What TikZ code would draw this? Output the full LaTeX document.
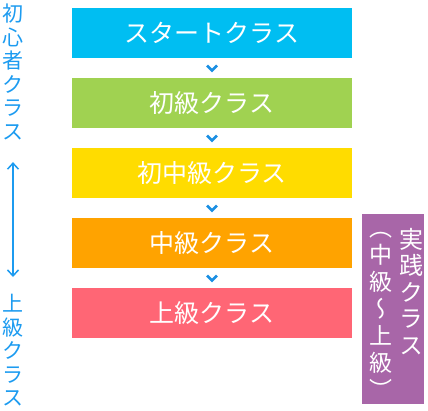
\documentclass[tikz,border=0pt]{standalone}
\usepackage{fontspec}
\usepackage{xcolor}
\usepackage{tikz}
\usetikzlibrary{arrows.meta,positioning,calc}
\newfontfamily\jpfont{Noto Sans CJK JP}
\newfontfamily\jpvert[RawFeature={+vert}]{Noto Sans CJK JP}
\definecolor{lvlblue}{HTML}{00BEF2}
\definecolor{lvlgreen}{HTML}{A0D251}
\definecolor{lvlyellow}{HTML}{FFDC00}
\definecolor{lvlorange}{HTML}{FFA300}
\definecolor{lvlpink}{HTML}{FF6675}
\definecolor{lvlpurple}{HTML}{A866A8}
\definecolor{lvltext}{HTML}{1C9BF0}
\definecolor{lvlchev}{HTML}{1A8FE3}

\begin{document}
\begin{tikzpicture}[
    x=1pt,y=-1pt,
    klasse/.style = {rectangle,minimum width=280pt,minimum height=50pt,
                     inner sep=0pt,text=white,
                     font=\jpfont\fontsize{25}{25}\selectfont},
    jissen/.style = {rectangle,fill=lvlpurple,minimum width=62pt,
                     minimum height=190pt,inner sep=0pt},
    tate/.style   = {align=center,inner sep=0pt,text=lvltext,
                     font=\jpfont\fontsize{21}{23.5}\selectfont},
    tatew/.style  = {align=center,inner sep=0pt,text=white,anchor=north},
    chev/.style   = {lvlchev,line width=2.6pt,line cap=butt,line join=miter},
    fl/.style     = {{Straight Barb[length=6pt,width=11pt]}-{Straight Barb[length=6pt,width=11pt]},
                     lvltext,line width=1.5pt},
  ]
  \useasboundingbox (0,0) rectangle (428,410);

  % -- niveaux --------------------------------------------------------
  \node[klasse,fill=lvlblue]   (b1) at (212,33)  {スタートクラス};
  \node[klasse,fill=lvlgreen]  (b2) at (212,103) {初級クラス};
  \node[klasse,fill=lvlyellow] (b3) at (212,173) {初中級クラス};
  \node[klasse,fill=lvlorange] (b4) at (212,243) {中級クラス};
  \node[klasse,fill=lvlpink]   (b5) at (212,313) {上級クラス};

  % -- chevrons -------------------------------------------------------
  \draw[chev] ($(b1.south)!.5!(b2.north)$) ++(-5,-2.5) -- ++(5,5) -- ++(5,-5);
  \draw[chev] ($(b2.south)!.5!(b3.north)$) ++(-5,-2.5) -- ++(5,5) -- ++(5,-5);
  \draw[chev] ($(b3.south)!.5!(b4.north)$) ++(-5,-2.5) -- ++(5,5) -- ++(5,-5);
  \draw[chev] ($(b4.south)!.5!(b5.north)$) ++(-5,-2.5) -- ++(5,5) -- ++(5,-5);

  % -- classe pratique ------------------------------------------------
  \node[jissen] (pr) at (393,309) {};
  \node[tatew,font=\jpvert\fontsize{24}{26.5}\selectfont]
       (pr1) at (411,228) {実\\践\\ク\\ラ\\ス};
  \node[tatew,font=\jpvert\fontsize{23}{27}\selectfont]
       (pr2) at (381,232) {（\\中\\級\\〜\\上\\級\\）};

  % -- echelle ----------------------------------------------------------
  \node[tate,anchor=north] (deb) at (13,4)   {初\\心\\者\\ク\\ラ\\ス};
  \node[tate,anchor=north] (sup) at (13,294) {上\\級\\ク\\ラ\\ス};
  \draw[fl] ([yshift=-22pt]deb.south) -- ([yshift=17pt]sup.north);

\end{tikzpicture}
\end{document}
